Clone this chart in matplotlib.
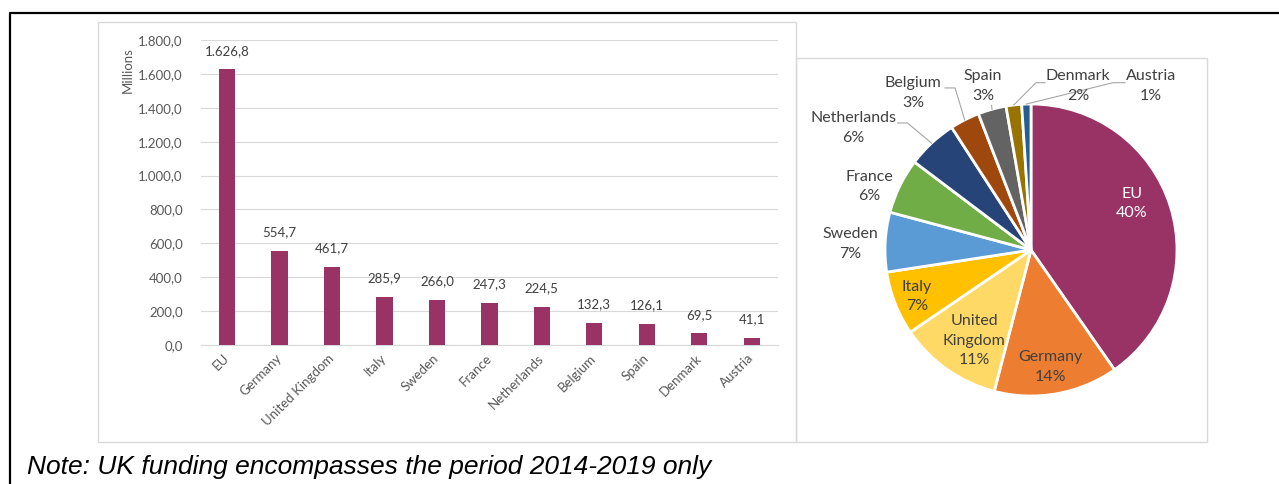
import numpy as np
import matplotlib
matplotlib.use("Agg")
import matplotlib.pyplot as plt
from matplotlib.patches import Rectangle
from matplotlib.lines import Line2D

# Funding by beneficiary, millions of euro
countries = ['EU', 'Germany', 'United Kingdom', 'Italy', 'Sweden', 'France',
             'Netherlands', 'Belgium', 'Spain', 'Denmark', 'Austria']
funding = [1626.8, 554.7, 461.7, 285.9, 266.0, 247.3, 224.5, 132.3, 126.1, 69.5, 41.1]
y_ticks = [0, 200, 400, 600, 800, 1000, 1200, 1400, 1600, 1800]
pie_names = ['EU', 'Germany', 'United\nKingdom', 'Italy', 'Sweden', 'France',
             'Netherlands', 'Belgium', 'Spain', 'Denmark', 'Austria']
pie_colors = ['#993366', '#ED7D31', '#FFD966', '#FFC000', '#5B9BD5', '#70AD47',
              '#264478', '#9E480E', '#636363', '#997300', '#255E91']

BAR_COLOR = '#993366'
TEXT = '#595959'
LABEL = '#404040'
GRID = '#D9D9D9'

W, H = 1279, 484
plt.rcParams['font.family'] = ['Lato', 'DejaVu Sans']


def fx(x):
    return x / W


def fy(y):
    return 1 - y / H


def euro(v):
    s = f"{v:,.1f}"
    return s.replace(',', 'X').replace('.', ',').replace('X', '.')


fig = plt.figure(figsize=(W / 100, H / 100), dpi=100)

# panel frames
fig.add_artist(Rectangle((fx(98), fy(442)), (796 - 98) / W, (442 - 22) / H,
                         transform=fig.transFigure, fill=False, ec=GRID, lw=1))
fig.add_artist(Rectangle((fx(796), fy(442)), (1207 - 796) / W, (442 - 58) / H,
                         transform=fig.transFigure, fill=False, ec=GRID, lw=1))

# outer black box (runs off the page right and bottom)
fig.add_artist(Line2D([fx(10), fx(10), fx(1300)], [fy(500), fy(13), fy(13)],
                      transform=fig.transFigure, color='black', lw=1.6))

# ---- bar chart ----
ax = fig.add_axes([fx(200.75), fy(345), (778 - 200.75) / W, (345 - 40) / H])
x = np.arange(len(countries))
ax.bar(x, funding, width=0.31, color=BAR_COLOR, zorder=3)
ax.set_xlim(-0.5, len(countries) - 0.5)
ax.set_ylim(0, 1800)
ax.set_yticks(y_ticks)
ax.set_yticklabels([euro(v) for v in y_ticks])
ax.yaxis.grid(True, color=GRID, lw=0.8)
ax.set_axisbelow(True)
for side in ['top', 'right', 'left']:
    ax.spines[side].set_visible(False)
ax.spines['bottom'].set_color(GRID)
ax.tick_params(axis='both', length=0, colors=TEXT, labelsize=9.5)
ax.tick_params(axis='y', pad=13)
ax.set_xticks(x)
ax.set_xticklabels(countries, rotation=45, ha='right', va='center',
                   rotation_mode='anchor')
ax.tick_params(axis='x', pad=8)

for xi, v in zip(x, funding):
    ax.annotate(euro(v), (xi, v), xytext=(0, 9), textcoords='offset points',
                ha='center', va='bottom', fontsize=9.5, color=LABEL)

fig.text(fx(128), fy(70), 'Millions', rotation=90, ha='center', va='center',
         fontsize=9.5, color=TEXT)

# ---- pie chart ----
R = 146
axp = fig.add_axes([fx(1031 - R), fy(250 + R), 2 * R / W, 2 * R / H])
axp.pie(funding, colors=pie_colors, startangle=90, counterclock=False,
        wedgeprops=dict(edgecolor='white', linewidth=2))
axp.set_xlim(-1, 1)
axp.set_ylim(-1, 1)
axp.axis('off')

total = sum(funding)
shares = [v / total for v in funding]
edges = np.cumsum([0] + shares)
mid_angles = [np.deg2rad(90 - 360 * (a + b) / 2) for a, b in zip(edges[:-1], edges[1:])]

# label placement in pie-radius units
label_pos = {
    'EU': (0.69, 0.32), 'Germany': (0.13, -0.80), 'United\nKingdom': (-0.39, -0.62),
    'Italy': (-0.78, -0.32), 'Sweden': (-1.24, 0.04), 'France': (-1.11, 0.435),
    'Netherlands': (-1.216, 0.836), 'Belgium': (-0.808, 1.075), 'Spain': (-0.329, 1.123),
    'Denmark': (0.322, 1.123), 'Austria': (0.822, 1.123),
}
# leader line points near the label; last point is the wedge edge
leaders = {
    'Netherlands': [(-0.914, 0.87), (-0.846, 0.87)],
    'Belgium': [(-0.589, 1.11), (-0.52, 1.11)],
    'Spain': [(-0.27, 0.99)],
    'Denmark': [(0.096, 1.146), (0.034, 1.146)],
    'Austria': [(0.644, 1.146), (0.562, 1.146)],
}

for name, share, ang in zip(pie_names, shares, mid_angles):
    px, py = label_pos[name]
    color = 'white' if name == 'EU' else LABEL
    axp.text(px, py, f"{name}\n{round(share * 100):.0f}%", ha='center', va='center',
             fontsize=11.5, color=color, linespacing=1.5, clip_on=False)
    if name in leaders:
        pts = leaders[name] + [(np.cos(ang), np.sin(ang))]
        axp.plot([p[0] for p in pts], [p[1] for p in pts], color='#A6A6A6',
                 lw=0.8, clip_on=False)

fig.text(fx(27), fy(474), 'Note: UK funding encompasses the period 2014-2019 only',
         fontsize=19, style='italic', family='Liberation Sans', va='baseline')

fig.savefig('out.png', dpi=100)
